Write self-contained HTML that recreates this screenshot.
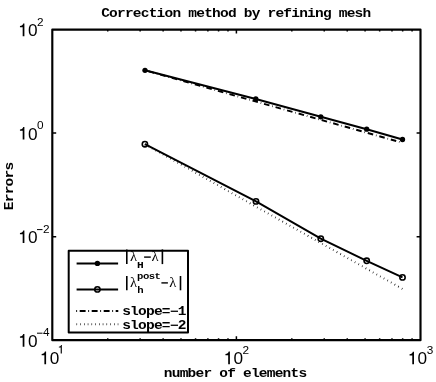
<!DOCTYPE html>
<html><head><meta charset="utf-8">
<style>
html,body{margin:0;padding:0;background:#fff;}
svg{display:block;will-change:transform;}
text{fill:#000;}
.m{font-family:"Liberation Mono",monospace;font-weight:bold;}
.s{font-family:"Liberation Sans",sans-serif;}
</style></head><body>
<svg width="436" height="382" viewBox="0 0 436 382">
<rect width="436" height="382" fill="#fff"/>
<rect x="52.3" y="29.55" width="368.20" height="310.65" fill="none" stroke="#000" stroke-width="2.15" stroke-linejoin="round"/>
<g stroke="#000" stroke-width="1.5" fill="none"><path d="M107.72,340.2V338.25M107.72,29.55V31.50"/><path d="M140.14,340.2V338.25M140.14,29.55V31.50"/><path d="M163.14,340.2V338.25M163.14,29.55V31.50"/><path d="M180.98,340.2V338.25M180.98,29.55V31.50"/><path d="M195.56,340.2V338.25M195.56,29.55V31.50"/><path d="M207.88,340.2V338.25M207.88,29.55V31.50"/><path d="M218.56,340.2V338.25M218.56,29.55V31.50"/><path d="M227.98,340.2V338.25M227.98,29.55V31.50"/><path d="M291.82,340.2V338.25M291.82,29.55V31.50"/><path d="M324.24,340.2V338.25M324.24,29.55V31.50"/><path d="M347.24,340.2V338.25M347.24,29.55V31.50"/><path d="M365.08,340.2V338.25M365.08,29.55V31.50"/><path d="M379.66,340.2V338.25M379.66,29.55V31.50"/><path d="M391.98,340.2V338.25M391.98,29.55V31.50"/><path d="M402.66,340.2V338.25M402.66,29.55V31.50"/><path d="M412.08,340.2V338.25M412.08,29.55V31.50"/><path d="M236.40,340.2V336.30M236.40,29.55V33.45"/><path d="M52.3,133.10H56.20M420.5,133.10H416.60"/><path d="M52.3,236.65H56.20M420.5,236.65H416.60"/></g>
<polyline points="145.0,70.3 255.8,99.0 320.8,116.8 366.7,129.2 402.5,139.5" fill="none" stroke="#000" stroke-width="2"/>
<polyline points="145.0,70.3 402.2,142.7" fill="none" stroke="#000" stroke-width="1.9" stroke-dasharray="5.6,2.9,0.575,2.9" stroke-dashoffset="8.075"/>
<polyline points="144.9,144.2 256.0,201.4 320.8,238.7 366.7,260.8 402.5,277.4" fill="none" stroke="#000" stroke-width="2"/>
<polyline points="144.9,144.3 402.5,288.9" fill="none" stroke="#000" stroke-width="2" stroke-dasharray="0.6,3.55"/>
<g fill="#000"><circle cx="145.0" cy="70.3" r="2.65"/><circle cx="255.8" cy="99.0" r="2.65"/><circle cx="320.8" cy="116.8" r="2.65"/><circle cx="366.7" cy="129.2" r="2.65"/><circle cx="402.5" cy="139.5" r="2.65"/></g>
<g fill="none" stroke="#000" stroke-width="1.6"><circle cx="144.9" cy="144.2" r="2.65"/><circle cx="256.0" cy="201.4" r="2.65"/><circle cx="320.8" cy="238.7" r="2.65"/><circle cx="366.7" cy="260.8" r="2.65"/><circle cx="402.5" cy="277.4" r="2.65"/></g>
<text class="m" font-size="13.2" transform="translate(236.2,16.7) scale(1.1,0.9)" x="-122.76 -115.56 -108.36 -101.16 -93.96 -86.76 -79.56 -72.36 -65.16 -57.96 -50.76 -43.56 -36.36 -29.16 -21.96 -14.76 -7.56 -0.36 6.84 14.04 21.24 28.44 35.64 42.84 50.04 57.24 64.44 71.64 78.84 86.04 93.24 100.44 107.64 114.84" y="0">Correction method by refining mesh</text>
<text class="m" font-size="13.2" transform="translate(235.5,376.7) scale(1.1,0.9)" x="-65.16 -57.96 -50.76 -43.56 -36.36 -29.16 -21.96 -14.76 -7.56 -0.36 6.84 14.04 21.24 28.44 35.64 42.84 50.04 57.24" y="0">number of elements</text>
<text class="m" font-size="13.2" transform="translate(12.8,186.0) rotate(-90) scale(1.1,0.9)" x="-21.96 -14.76 -7.56 -0.36 6.84 14.04" y="0">Errors</text>
<g class="s">
<path d="M6.35,0 L6.35,-12.9 L5.15,-12.9 C4.8,-11.3 3.7,-10.5 1.8,-10.35 L1.8,-9.15 L4.6,-9.15 L4.6,0 Z" transform="translate(18.20,36.2) scale(0.975)"/><text x="27.95" y="36.2" font-size="17.2">0</text><text x="37.10" y="25.60" font-size="11.8">2</text>
<path d="M6.35,0 L6.35,-12.9 L5.15,-12.9 C4.8,-11.3 3.7,-10.5 1.8,-10.35 L1.8,-9.15 L4.6,-9.15 L4.6,0 Z" transform="translate(18.20,139.6) scale(0.975)"/><text x="27.95" y="139.6" font-size="17.2">0</text><text x="37.10" y="129.00" font-size="11.8">0</text>
<path d="M6.35,0 L6.35,-12.9 L5.15,-12.9 C4.8,-11.3 3.7,-10.5 1.8,-10.35 L1.8,-9.15 L4.6,-9.15 L4.6,0 Z" transform="translate(18.20,243.1) scale(0.975)"/><text x="27.95" y="243.1" font-size="17.2">0</text><path d="M37.00,229.60H42.50" stroke="#000" stroke-width="1" fill="none"/><text x="42.90" y="232.50" font-size="11.8">2</text>
<path d="M6.35,0 L6.35,-12.9 L5.15,-12.9 C4.8,-11.3 3.7,-10.5 1.8,-10.35 L1.8,-9.15 L4.6,-9.15 L4.6,0 Z" transform="translate(18.20,346.7) scale(0.975)"/><text x="27.95" y="346.7" font-size="17.2">0</text><path d="M37.00,333.20H42.50" stroke="#000" stroke-width="1" fill="none"/><text x="42.90" y="336.10" font-size="11.8">4</text>
<path d="M6.35,0 L6.35,-12.9 L5.15,-12.9 C4.8,-11.3 3.7,-10.5 1.8,-10.35 L1.8,-9.15 L4.6,-9.15 L4.6,0 Z" transform="translate(39.90,364.2) scale(0.975)"/><text x="49.65" y="364.2" font-size="17.2">0</text><path d="M6.35,0 L6.35,-12.9 L5.15,-12.9 C4.8,-11.3 3.7,-10.5 1.8,-10.35 L1.8,-9.15 L4.6,-9.15 L4.6,0 Z" transform="translate(57.65,353.60) scale(0.66)"/>
<path d="M6.35,0 L6.35,-12.9 L5.15,-12.9 C4.8,-11.3 3.7,-10.5 1.8,-10.35 L1.8,-9.15 L4.6,-9.15 L4.6,0 Z" transform="translate(223.70,364.2) scale(0.975)"/><text x="233.45" y="364.2" font-size="17.2">0</text><text x="242.60" y="353.60" font-size="11.8">2</text>
<path d="M6.35,0 L6.35,-12.9 L5.15,-12.9 C4.8,-11.3 3.7,-10.5 1.8,-10.35 L1.8,-9.15 L4.6,-9.15 L4.6,0 Z" transform="translate(407.80,364.3) scale(0.975)"/><text x="417.55" y="364.3" font-size="17.2">0</text><text x="426.70" y="353.70" font-size="11.8">3</text>
</g>
<g id="legend">
<rect x="68.7" y="250.8" width="119.3" height="81.7" fill="#fff" stroke="#000" stroke-width="2" stroke-linejoin="round"/>
<line x1="76.6" y1="263.4" x2="118.1" y2="263.4" stroke="#000" stroke-width="2"/>
<circle cx="97.4" cy="263.4" r="2.7" fill="#000"/>
<line x1="76.6" y1="289.4" x2="118.1" y2="289.4" stroke="#000" stroke-width="2"/>
<circle cx="97.4" cy="289.4" r="2.65" fill="none" stroke="#000" stroke-width="1.6"/>
<line x1="76.2" y1="311" x2="118.3" y2="311" stroke="#000" stroke-width="2" stroke-dasharray="0.9,2.6,5.9,2.6"/>
<line x1="76.5" y1="324.2" x2="118.3" y2="324.2" stroke="#000" stroke-width="2" stroke-dasharray="0.6,3.15"/>
<text class="m" font-size="13.2" transform="translate(122.6,315.1) scale(1.1,0.9)" x="-0.36 6.84 14.04 21.24 28.44 35.64 42.84 50.04" y="0">slope=−1</text>
<text class="m" font-size="13.2" transform="translate(122.6,328.6) scale(1.1,0.9)" x="-0.36 6.84 14.04 21.24 28.44 35.64 42.84 50.04" y="0">slope=−2</text>
<g stroke="#000" stroke-width="1.6">
<line x1="126.8" y1="249.4" x2="126.8" y2="264.1"/><line x1="162.4" y1="249.4" x2="162.4" y2="264.1"/>
<line x1="126.8" y1="276.0" x2="126.8" y2="290.3"/><line x1="180.5" y1="276.0" x2="180.5" y2="290.3"/>
</g>
<g stroke="#000" stroke-width="1.4">
<line x1="144.1" y1="257.1" x2="150.8" y2="257.1"/><line x1="161.4" y1="282.9" x2="167.9" y2="282.9"/>
</g>
<g font-family="Liberation Serif" font-size="14.6">
<text x="130.1" y="261.2">λ</text><text x="151.4" y="261.2">λ</text>
<text x="130.1" y="287">λ</text><text x="169.2" y="287">λ</text>
</g>
<text class="m" font-size="9.5" transform="translate(137.5,268.1) scale(1.18,1.05)" x="-0.39" y="0">H</text>
<text class="m" font-size="9.5" transform="translate(137.5,293.3) scale(1.12,0.9)" x="-0.26" y="0">h</text>
<text class="m" font-size="9.5" transform="translate(137.4,279.3) scale(1.12,0.92)" x="-0.26 4.92 10.10 15.27" y="0">post</text>
</g>
</svg>
</body></html>
